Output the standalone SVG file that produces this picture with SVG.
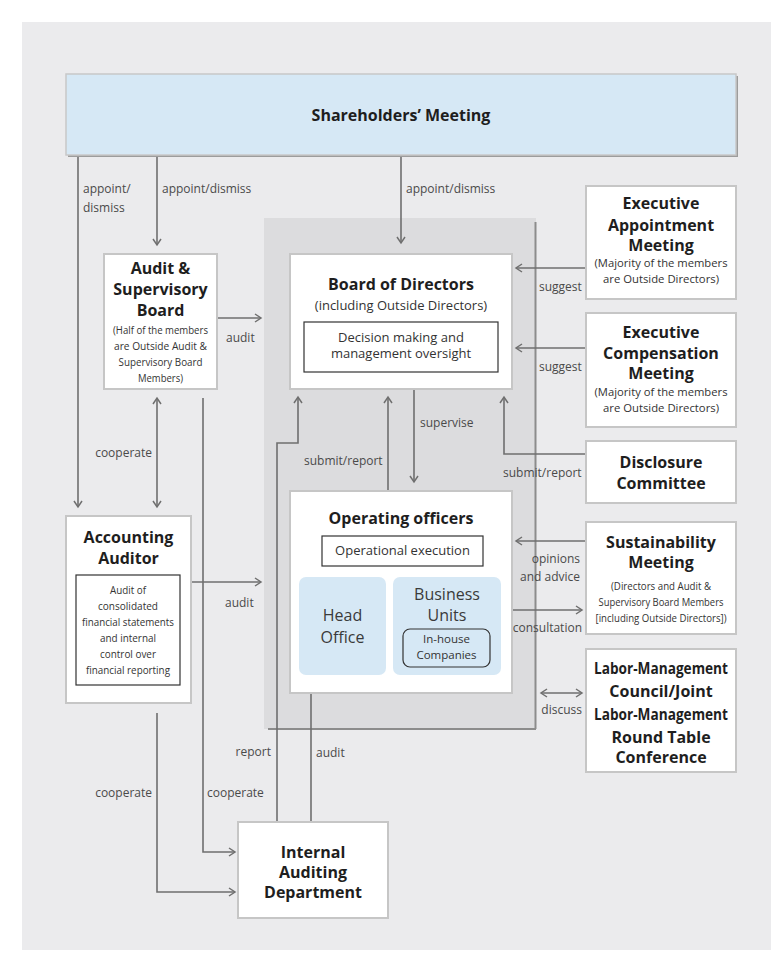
<svg xmlns="http://www.w3.org/2000/svg" width="782" height="976" viewBox="0 0 782 976">
<defs>
<style>
.t{font-family:"Open Sans","Noto Sans",sans-serif;font-weight:700;font-size:16px;fill:#1e1e1e;text-anchor:middle}
.s{font-family:"Open Sans","Noto Sans",sans-serif;font-size:11.5px;fill:#333;text-anchor:middle}
.m{font-family:"Open Sans","Noto Sans",sans-serif;font-size:13px;fill:#333;text-anchor:middle}
.h{font-family:"Open Sans","Noto Sans",sans-serif;font-size:16px;fill:#3a3a3a;text-anchor:middle}
.l{font-family:"Open Sans","Noto Sans",sans-serif;font-size:12px;fill:#4a4a4a}
.e{text-anchor:end}
.box{fill:#fff;stroke:#c6c6c6;stroke-width:2}
.ib{fill:#fff;stroke:#333;stroke-width:1.2}
.blue{fill:#d6e8f5}
.c{stroke:#6f6f6f;stroke-width:1.6;fill:none}
.ca{stroke:#6f6f6f;stroke-width:1.6;fill:none;marker-end:url(#a)}
.cb{stroke:#6f6f6f;stroke-width:1.6;fill:none;marker-end:url(#a);marker-start:url(#a)}
</style>
<marker id="a" markerWidth="10" markerHeight="10" refX="7" refY="5" orient="auto-start-reverse" markerUnits="userSpaceOnUse">
<path d="M1,1 L7,5 L1,9" fill="none" stroke="#6f6f6f" stroke-width="1.5"/>
</marker>
</defs>
<rect x="0" y="0" width="782" height="976" fill="#fff"/>
<rect x="22" y="22" width="749" height="928" fill="#ebebed"/>
<g id="group-area">
<rect x="264" y="218" width="272" height="511" fill="#dcdcde"/>
<path d="M535.5,222 V729 M268,729 H536" stroke="#8c8c8c" stroke-width="2" fill="none"/>
</g>
<g id="connectors">
<path class="ca" d="M78,155 V507"/>
<path class="ca" d="M157,155 V245"/>
<path class="ca" d="M401,155 V243"/>
<path class="ca" d="M217,318 H261"/>
<path class="ca" d="M586,268 H516"/>
<path class="ca" d="M586,348 H516"/>
<path class="ca" d="M586,454 H504 V397"/>
<path class="ca" d="M414,389 V482"/>
<path class="ca" d="M388,491 V397"/>
<path class="ca" d="M277,822 V443 H298 V397"/>
<path class="c" d="M311,822 V693"/>
<path class="cb" d="M157,398 V507"/>
<path class="ca" d="M203,398 V852 H235"/>
<path class="ca" d="M191,582 H261"/>
<path class="ca" d="M157,713 V892 H235"/>
<path class="ca" d="M586,541 H516"/>
<path class="ca" d="M512,610 H582"/>
<path class="cb" d="M541,693 H582"/>
</g>
<g id="labels">
<text class="l" x="83" y="193">appoint/</text>
<text class="l" x="83" y="212">dismiss</text>
<text class="l" x="162" y="193">appoint/dismiss</text>
<text class="l" x="406" y="193">appoint/dismiss</text>
<text class="l" x="226" y="342">audit</text>
<text class="l" x="539" y="291">suggest</text>
<text class="l" x="539" y="371">suggest</text>
<text class="l" x="503" y="477">submit/report</text>
<text class="l" x="420" y="427">supervise</text>
<text class="l" x="304" y="465">submit/report</text>
<text class="l e" x="152" y="457">cooperate</text>
<text class="l" x="225" y="607">audit</text>
<text class="l e" x="580" y="563">opinions</text>
<text class="l e" x="580" y="581">and advice</text>
<text class="l e" x="582" y="632">consultation</text>
<text class="l e" x="582" y="714">discuss</text>
<text class="l e" x="271" y="756">report</text>
<text class="l" x="316" y="757">audit</text>
<text class="l" x="207" y="797">cooperate</text>
<text class="l e" x="152" y="797">cooperate</text>
</g>
<g id="shareholders">
<rect x="68" y="76" width="670" height="81" fill="#9c9c9c"/>
<rect x="66" y="74" width="670" height="81" fill="#d6e8f5" stroke="#c8c8c8" stroke-width="1.5"/>
<text class="t" x="401" y="121">Shareholders’ Meeting</text>
</g>
<g id="audit-board">
<rect class="box" x="104" y="254" width="113" height="135"/>
<text class="t" x="160.5" y="274">Audit &amp;</text>
<text class="t" x="160.5" y="295">Supervisory</text>
<text class="t" x="160.5" y="316">Board</text>
<text class="s" x="160.5" y="334" textLength="95" lengthAdjust="spacingAndGlyphs">(Half of the members</text>
<text class="s" x="160.5" y="350" textLength="93" lengthAdjust="spacingAndGlyphs">are Outside Audit &amp;</text>
<text class="s" x="160.5" y="366" textLength="84" lengthAdjust="spacingAndGlyphs">Supervisory Board</text>
<text class="s" x="160.5" y="382" textLength="45" lengthAdjust="spacingAndGlyphs">Members)</text>
</g>
<g id="board">
<rect class="box" x="290" y="254" width="222" height="135"/>
<text class="t" x="401" y="290">Board of Directors</text>
<text class="m" x="401" y="310">(including Outside Directors)</text>
<rect class="ib" x="304" y="322" width="194" height="50"/>
<text class="m" x="401" y="342">Decision making and</text>
<text class="m" x="401" y="358">management oversight</text>
</g>
<g id="exec-appointment">
<rect class="box" x="586" y="186" width="150" height="113"/>
<text class="t" x="661" y="209">Executive</text>
<text class="t" x="661" y="231">Appointment</text>
<text class="t" x="661" y="251">Meeting</text>
<text class="s" x="661" y="267" textLength="133" lengthAdjust="spacingAndGlyphs">(Majority of the members</text>
<text class="s" x="661" y="283" textLength="116" lengthAdjust="spacingAndGlyphs">are Outside Directors)</text>
</g>
<g id="exec-compensation">
<rect class="box" x="586" y="313" width="150" height="114"/>
<text class="t" x="661" y="338">Executive</text>
<text class="t" x="661" y="359">Compensation</text>
<text class="t" x="661" y="379">Meeting</text>
<text class="s" x="661" y="396" textLength="133" lengthAdjust="spacingAndGlyphs">(Majority of the members</text>
<text class="s" x="661" y="412" textLength="116" lengthAdjust="spacingAndGlyphs">are Outside Directors)</text>
</g>
<g id="disclosure">
<rect class="box" x="586" y="441" width="150" height="62"/>
<text class="t" x="661" y="468">Disclosure</text>
<text class="t" x="661" y="489">Committee</text>
</g>
<g id="operating">
<rect class="box" x="290" y="491" width="222" height="202"/>
<text class="t" x="401" y="524">Operating officers</text>
<rect class="ib" x="322" y="536" width="161" height="30"/>
<text class="m" x="402.5" y="555">Operational execution</text>
<rect class="blue" x="299" y="577" width="87" height="98" rx="7"/>
<text class="h" x="342.5" y="621">Head</text>
<text class="h" x="342.5" y="643">Office</text>
<rect class="blue" x="393" y="577" width="108" height="98" rx="7"/>
<text class="h" x="447" y="600">Business</text>
<text class="h" x="447" y="621">Units</text>
<rect x="403" y="629" width="87" height="38" rx="7" fill="none" stroke="#333" stroke-width="1.2"/>
<text class="s" x="446.5" y="643">In-house</text>
<text class="s" x="446.5" y="659">Companies</text>
</g>
<g id="sustainability">
<rect class="box" x="586" y="522" width="150" height="112"/>
<text class="t" x="661" y="548">Sustainability</text>
<text class="t" x="661" y="568">Meeting</text>
<text class="s" x="661" y="590" textLength="100" lengthAdjust="spacingAndGlyphs">(Directors and Audit &amp;</text>
<text class="s" x="661" y="606" textLength="125" lengthAdjust="spacingAndGlyphs">Supervisory Board Members</text>
<text class="s" x="661" y="622" textLength="131" lengthAdjust="spacingAndGlyphs">[including Outside Directors])</text>
</g>
<g id="labor">
<rect class="box" x="586" y="649" width="150" height="123"/>
<text class="t" x="661" y="674" textLength="134" lengthAdjust="spacingAndGlyphs">Labor-Management</text>
<text class="t" x="661" y="697">Council/Joint</text>
<text class="t" x="661" y="720" textLength="134" lengthAdjust="spacingAndGlyphs">Labor-Management</text>
<text class="t" x="661" y="743">Round Table</text>
<text class="t" x="661" y="763">Conference</text>
</g>
<g id="accounting">
<rect class="box" x="66" y="516" width="125" height="187"/>
<text class="t" x="128.5" y="543">Accounting</text>
<text class="t" x="128.5" y="564">Auditor</text>
<rect class="ib" x="76" y="575" width="104" height="110"/>
<text class="s" x="128" y="594" textLength="36" lengthAdjust="spacingAndGlyphs">Audit of</text>
<text class="s" x="128" y="610" textLength="60" lengthAdjust="spacingAndGlyphs">consolidated</text>
<text class="s" x="128" y="626" textLength="92" lengthAdjust="spacingAndGlyphs">financial statements</text>
<text class="s" x="128" y="642" textLength="56" lengthAdjust="spacingAndGlyphs">and internal</text>
<text class="s" x="128" y="658" textLength="56" lengthAdjust="spacingAndGlyphs">control over</text>
<text class="s" x="128" y="674" textLength="84" lengthAdjust="spacingAndGlyphs">financial reporting</text>
</g>
<g id="internal-auditing">
<rect class="box" x="238" y="822" width="150" height="96"/>
<text class="t" x="313" y="858">Internal</text>
<text class="t" x="313" y="878">Auditing</text>
<text class="t" x="313" y="898">Department</text>
</g>
</svg>
